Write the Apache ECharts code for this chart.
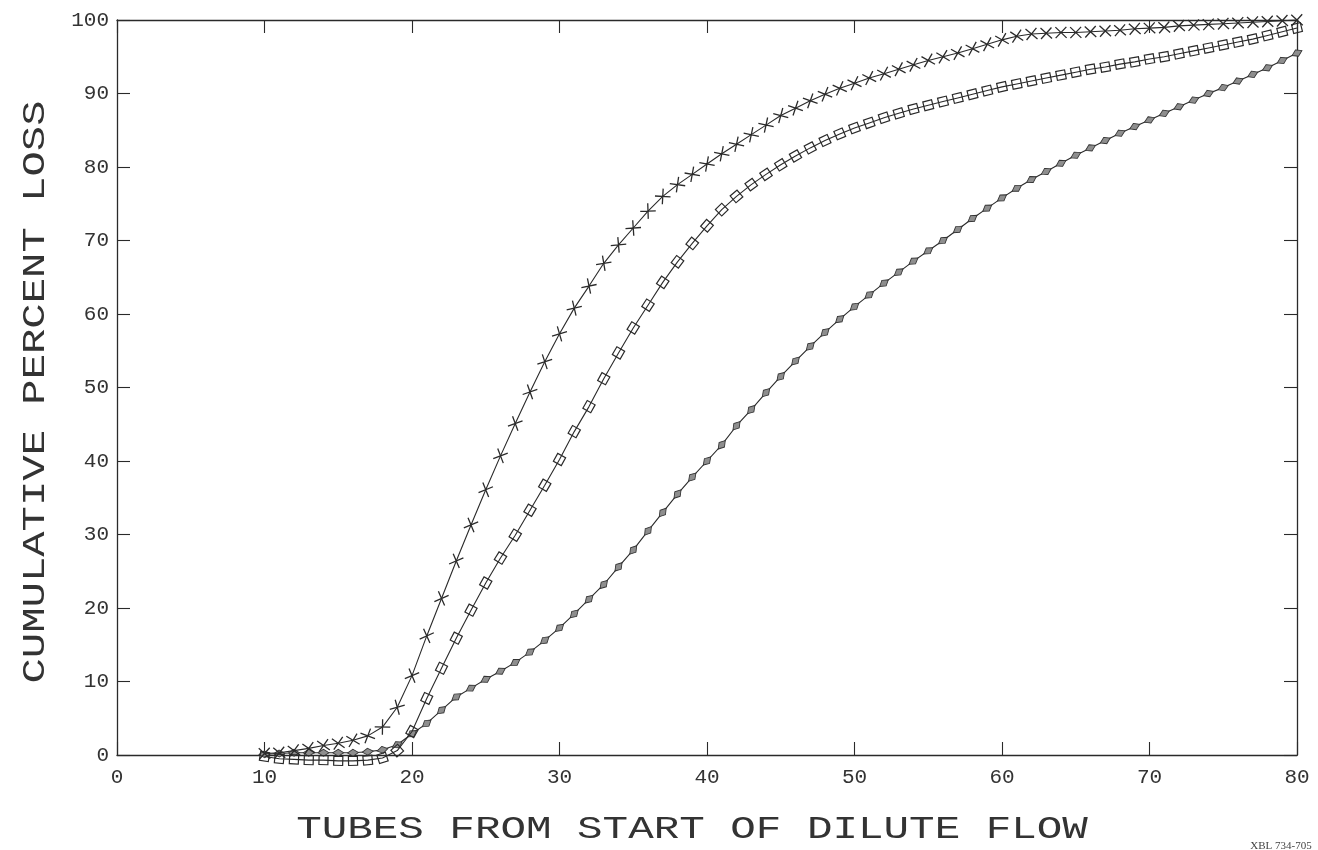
<!DOCTYPE html>
<html>
<head>
<meta charset="utf-8">
<script src="https://cdn.jsdelivr.net/npm/echarts@6/dist/echarts.min.js"></script>
<style>
  html, body { margin: 0; padding: 0; background: #ffffff; }
  #chart { width: 1318px; height: 850px; }
</style>
</head>
<body>
<div id="chart"></div>
<script>
// Tube number (x) for every plotted point
const tubes = [
  10, 11, 12, 13, 14, 15, 16, 17, 18, 19,
  20, 21, 22, 23, 24, 25, 26, 27, 28, 29,
  30, 31, 32, 33, 34, 35, 36, 37, 38, 39,
  40, 41, 42, 43, 44, 45, 46, 47, 48, 49,
  50, 51, 52, 53, 54, 55, 56, 57, 58, 59,
  60, 61, 62, 63, 64, 65, 66, 67, 68, 69,
  70, 71, 72, 73, 74, 75, 76, 77, 78, 79,
  80
];

// Cumulative percent loss, curve marked with crosses
const crossLoss = [
  0.2, 0.3, 0.6, 0.9, 1.3, 1.6, 2.0, 2.6, 3.8, 6.5,
  10.8, 16.2, 21.3, 26.4, 31.3, 36.1, 40.7, 45.1, 49.4, 53.5,
  57.3, 60.8, 63.8, 66.9, 69.4, 71.7, 74.0, 76.0, 77.6, 79.0,
  80.4, 81.8, 83.1, 84.4, 85.7, 87.0, 88.0, 89.0, 89.9, 90.7,
  91.4, 92.1, 92.7, 93.3, 93.9, 94.5, 95.0, 95.5, 96.1, 96.7,
  97.3, 97.8, 98.1, 98.2, 98.3, 98.3, 98.4, 98.5, 98.6, 98.8,
  98.9, 99.0, 99.2, 99.3, 99.4, 99.5, 99.6, 99.7, 99.8, 99.9,
  100.0
];

// Cumulative percent loss, curve marked with open squares
const squareLoss = [
  -0.2, -0.5, -0.6, -0.7, -0.7, -0.8, -0.8, -0.7, -0.4, 0.6,
  3.2, 7.7, 11.8, 15.9, 19.7, 23.4, 26.8, 29.9, 33.3, 36.7,
  40.2, 44.0, 47.4, 51.2, 54.7, 58.1, 61.2, 64.3, 67.1, 69.6,
  72.0, 74.2, 76.0, 77.6, 79.0, 80.3, 81.5, 82.6, 83.6, 84.5,
  85.3, 86.0, 86.7, 87.3, 87.9, 88.4, 88.9, 89.4, 89.9, 90.4,
  90.9, 91.3, 91.7, 92.1, 92.5, 92.9, 93.3, 93.6, 94.0, 94.3,
  94.7, 95.0, 95.4, 95.8, 96.2, 96.6, 97.0, 97.4, 97.9, 98.4,
  98.9
];

// Cumulative percent loss, curve marked with shaded diamonds
const diamondLoss = [
  0.1, 0.2, 0.3, 0.3, 0.3, 0.3, 0.3, 0.45, 0.7, 1.4,
  2.9, 4.3, 6.1, 7.9, 9.1, 10.3, 11.4, 12.6, 14.0, 15.6,
  17.3, 19.2, 21.2, 23.2, 25.6, 27.9, 30.5, 33.0, 35.5, 37.8,
  40.0, 42.2, 44.8, 47.0, 49.3, 51.5, 53.6, 55.6, 57.5, 59.3,
  61.0, 62.6, 64.2, 65.7, 67.2, 68.6, 70.0, 71.5, 73.0, 74.4,
  75.8, 77.1, 78.3, 79.4, 80.5, 81.6, 82.6, 83.6, 84.6, 85.5,
  86.4, 87.3, 88.2, 89.1, 90.0, 90.8, 91.7, 92.6, 93.5, 94.5,
  95.5
];

const xRange = { min: 0, max: 80, step: 10 };
const yRange = { min: 0, max: 100, step: 10 };

const xTitle = 'TUBES FROM START OF DILUTE FLOW';
const yTitle = 'CUMULATIVE PERCENT LOSS';
const plateId = 'XBL 734-705';

// ---- layout ----
const W = 1318, H = 850;
const GRID = { left: 117, right: 21, top: 20, bottom: 95 };
const pxPerX = (W - GRID.left - GRID.right) / (xRange.max - xRange.min);
const pxPerY = (H - GRID.top - GRID.bottom) / (yRange.max - yRange.min);

const INK = '#2a2a2a';
const PLOT_FONT = '"Liberation Mono", "DejaVu Sans Mono", monospace';

// Plotter symbols follow the local direction of the curve
function turnAngles(values) {
  const n = values.length;
  return values.map((v, i) => {
    const a = Math.max(i - 1, 0), b = Math.min(i + 1, n - 1);
    const dy = (values[b] - values[a]) * pxPerY;
    const dx = (tubes[b] - tubes[a]) * pxPerX;
    return Math.atan2(dy, dx) * 180 / Math.PI;
  });
}

function points(values) {
  const ang = turnAngles(values);
  return values.map((v, i) => ({ value: [tubes[i], v], symbolRotate: ang[i] }));
}

function axisCommon(range) {
  return {
    type: 'value',
    min: range.min,
    max: range.max,
    interval: range.step,
    splitLine: { show: false },
    axisLine: { show: true, onZero: false, lineStyle: { color: INK, width: 1.3 } },
    axisTick: { show: true, inside: true, length: 13, lineStyle: { color: INK, width: 1.1 } }
  };
}

const labelStyle = { fontFamily: PLOT_FONT, fontSize: 21, color: '#333333' };

const chart = echarts.init(document.getElementById('chart'), null, { renderer: 'canvas', width: W, height: H });

chart.setOption({
  animation: false,
  backgroundColor: '#ffffff',
  grid: Object.assign({ containLabel: false, outerBoundsMode: 'none' }, GRID),
  xAxis: [
    Object.assign(axisCommon(xRange), {
      position: 'bottom',
      axisLabel: Object.assign({ margin: 12 }, labelStyle)
    }),
    Object.assign(axisCommon(xRange), {
      position: 'top',
      axisLabel: { show: false }
    })
  ],
  yAxis: [
    Object.assign(axisCommon(yRange), {
      position: 'left',
      axisLabel: Object.assign({ margin: 8 }, labelStyle)
    }),
    Object.assign(axisCommon(yRange), {
      position: 'right',
      axisLabel: { show: false }
    })
  ],
  series: [
    {
      name: 'diamonds',
      type: 'line',
      xAxisIndex: 0, yAxisIndex: 0,
      data: points(diamondLoss),
      clip: false,
      symbol: 'diamond',
      symbolSize: [11, 7],
      showAllSymbol: true,
      lineStyle: { color: INK, width: 1.1 },
      itemStyle: { color: '#8e8e8e', borderColor: '#333333', borderWidth: 0.9 },
      z: 2
    },
    {
      name: 'squares',
      type: 'line',
      xAxisIndex: 0, yAxisIndex: 0,
      data: points(squareLoss),
      clip: false,
      symbol: 'rect',
      symbolSize: 9,
      showAllSymbol: true,
      lineStyle: { color: INK, width: 1.1 },
      itemStyle: { color: 'rgba(255,255,255,0)', borderColor: INK, borderWidth: 1.2 },
      z: 3
    },
    {
      name: 'crosses',
      type: 'line',
      xAxisIndex: 0, yAxisIndex: 0,
      data: points(crossLoss),
      clip: false,
      symbol: 'path://M0,0L10,10M10,0L0,10',
      symbolSize: 11,
      showAllSymbol: true,
      lineStyle: { color: INK, width: 1.1 },
      itemStyle: { color: 'rgba(255,255,255,0)', borderColor: INK, borderWidth: 1.3 },
      z: 4
    }
  ],
  graphic: [
    {
      type: 'text',
      x: 692, y: 830,
      scaleX: 1.33,
      style: { text: xTitle, font: '32px ' + PLOT_FONT, fill: '#333333', align: 'center', verticalAlign: 'middle' }
    },
    {
      type: 'text',
      x: 36, y: 392,
      rotation: Math.PI / 2,
      scaleX: 1.32,
      style: { text: yTitle, font: '32px ' + PLOT_FONT, fill: '#333333', align: 'center', verticalAlign: 'middle' }
    },
    {
      type: 'text',
      x: 1281, y: 846,
      style: { text: plateId, font: '11px "Liberation Serif", serif', fill: '#444444', align: 'center', verticalAlign: 'middle' }
    }
  ]
});
</script>
</body>
</html>
